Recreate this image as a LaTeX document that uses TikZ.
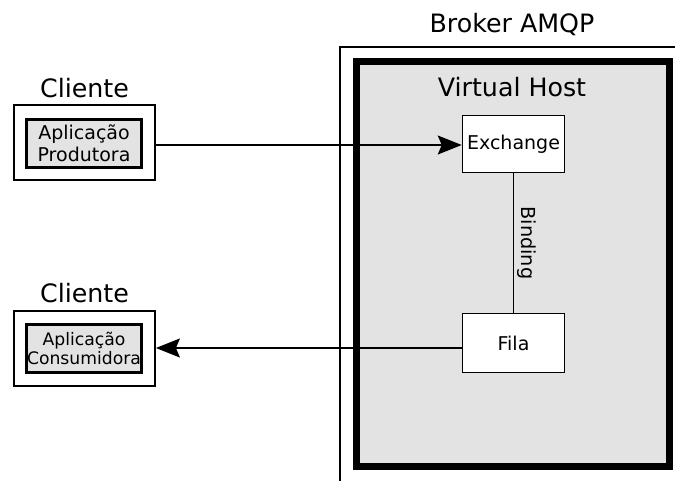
\documentclass[tikz,border=0pt]{standalone}
\usepackage{fontspec}
\setmainfont{DejaVu Sans}
\usetikzlibrary{arrows.meta}
\definecolor{boxgray}{RGB}{227,227,227}
\tikzset{
 outerbox/.style={draw, line width=1.8pt, fill=white, minimum width=141pt, minimum height=75pt, inner sep=0pt},
 appbox/.style={draw, line width=3pt, fill=boxgray, minimum width=115pt, minimum height=48pt, inner sep=0pt, align=center},
 compbox/.style={draw, line width=1.5pt, fill=white, minimum width=102pt, minimum height=57pt, inner sep=0pt, font=\fontsize{19}{22}\selectfont},
 title/.style={anchor=base, font=\fontsize{25.3}{29}\selectfont, inner sep=0pt},
 flow/.style={line width=1.5pt, -{Stealth[length=24pt,width=19pt,inset=4pt]}},
}
\begin{document}
\begin{tikzpicture}[x=1pt,y=-1pt]
\useasboundingbox (0,0) rectangle (675,481);
\clip (0,0) rectangle (675,481);
% broker
\draw[line width=1.8pt] (340,520) -- (340,47) -- (700,47);
\node[title] (broker) at (512,33) {Broker AMQP};
% virtual host
\draw[line width=7pt, fill=boxgray] (356,61.5) rectangle (669.5,466);
\node[title] (vhost) at (512,97) {Virtual Host};
% components
\node[compbox] (exch) at (513.5,144) {Exchange};
\node[compbox, minimum height=59pt] (fila) at (513.5,343) {Fila};
\draw[line width=1.5pt] (exch.south) -- node[midway, anchor=south, rotate=-90, inner sep=3pt, font=\fontsize{19.3}{22}\selectfont] {Binding} (fila.north);
% clients
\node[title] (cl1) at (84.5,98) {Cliente};
\node[outerbox] (c1) at (84.5,142.5) {};
\node[appbox, font=\fontsize{19}{22}\selectfont] (p1) at (84,143.5) {Aplicação\\Produtora};
\node[title] (cl2) at (84.5,302) {Cliente};
\node[outerbox] (c2) at (84.5,348.5) {};
\node[appbox, font=\fontsize{17.2}{18.5}\selectfont] (p2) at (84,348.5) {Aplicação\\Consumidora};
% flows
\draw[flow] (c1.east |- 0,145) -- (exch.west |- 0,145);
\draw[flow] (fila.west |- 0,348) -- (c2.east |- 0,348);
\end{tikzpicture}
\end{document}
